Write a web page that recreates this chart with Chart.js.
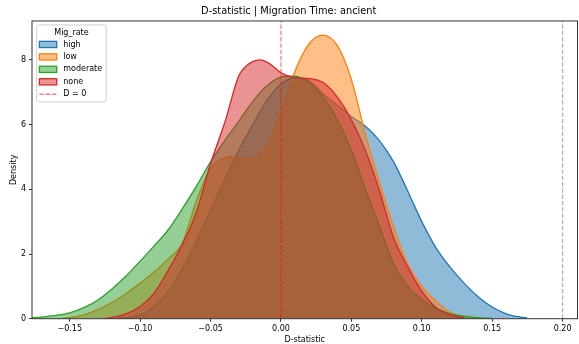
<!DOCTYPE html>
<html>
<head>
<meta charset="utf-8">
<script src="https://cdn.jsdelivr.net/npm/chart.js@4.4.1/dist/chart.umd.min.js"></script>
<style>
  html, body { margin: 0; padding: 0; background: #fff; }
</style>
</head>
<body>
<canvas id="kdeChart" width="579" height="344"></canvas>
<script>
// KDE curves of the D-statistic per migration rate (x = D, y = density)
const highX = [-0.115, -0.11, -0.10, -0.09, -0.08, -0.07, -0.06, -0.05, -0.04, -0.03, -0.02, -0.01, 0.00, 0.01, 0.02, 0.03, 0.04, 0.05, 0.06, 0.07, 0.08, 0.09, 0.10, 0.11, 0.12, 0.13, 0.14, 0.15, 0.16, 0.17, 0.175];
const highY = [0.01, 0.03, 0.12, 0.38, 0.85, 1.55, 2.4, 3.35, 4.3, 5.2, 6.0, 6.75, 7.25, 7.45, 7.35, 6.95, 6.6, 6.25, 5.95, 5.5, 4.85, 3.95, 3.0, 2.2, 1.6, 1.1, 0.68, 0.36, 0.15, 0.05, 0.02];

const lowX = [-0.155, -0.15, -0.14, -0.13, -0.12, -0.11, -0.10, -0.09, -0.08, -0.07, -0.06, -0.05, -0.04, -0.035, -0.03, -0.02, -0.01, 0.00, 0.01, 0.02, 0.03, 0.04, 0.05, 0.06, 0.07, 0.08, 0.09, 0.10, 0.11, 0.12, 0.13, 0.14];
const lowY = [0.01, 0.03, 0.12, 0.28, 0.5, 0.78, 1.1, 1.45, 1.85, 2.35, 3.65, 4.65, 4.97, 5.0, 4.97, 4.93, 5.35, 6.35, 7.65, 8.5, 8.77, 8.45, 7.4, 5.7, 4.2, 2.84, 1.7, 1.0, 0.55, 0.2, 0.07, 0.02];

const moderateX = [-0.18, -0.17, -0.16, -0.15, -0.14, -0.13, -0.12, -0.11, -0.10, -0.09, -0.08, -0.07, -0.06, -0.05, -0.04, -0.03, -0.02, -0.01, 0.00, 0.01, 0.02, 0.03, 0.04, 0.05, 0.06, 0.07, 0.08, 0.09, 0.10, 0.11, 0.12, 0.13, 0.14, 0.15];
const moderateY = [0.02, 0.05, 0.1, 0.18, 0.34, 0.58, 0.92, 1.32, 1.78, 2.25, 2.75, 3.4, 4.1, 4.85, 5.5, 6.1, 6.72, 7.2, 7.47, 7.5, 7.3, 6.85, 6.15, 5.2, 4.0, 2.85, 1.7, 1.0, 0.6, 0.32, 0.16, 0.08, 0.03, 0.01];

const noneX = [-0.125, -0.12, -0.11, -0.10, -0.09, -0.08, -0.07, -0.06, -0.05, -0.04, -0.03, -0.025, -0.02, -0.015, -0.01, -0.005, 0.00, 0.01, 0.02, 0.03, 0.04, 0.05, 0.06, 0.07, 0.08, 0.09, 0.10, 0.11, 0.12, 0.13];
const noneY = [0.01, 0.04, 0.15, 0.38, 0.8, 1.5, 2.3, 3.3, 4.8, 6.05, 7.5, 7.8, 7.95, 8.0, 7.93, 7.78, 7.6, 7.45, 7.42, 7.3, 6.85, 6.15, 5.2, 3.95, 2.5, 1.6, 0.85, 0.35, 0.12, 0.03];

const migRates = ["high", "low", "moderate", "none"];
const xTicks = [-0.15, -0.10, -0.05, 0.00, 0.05, 0.10, 0.15, 0.20];
const yTicks = [0, 2, 4, 6, 8];
const zeroLineX = 0;
const refLineX = 0.2;

const colors = {
  high: "31,119,180",
  low: "255,127,14",
  moderate: "44,160,44",
  none: "214,39,40",
};

const FONT = "'DejaVu Sans', sans-serif";
const X_MIN = -0.1768, X_MAX = 0.2106, Y_MIN = 0, Y_MAX = 9.205;

const toPoints = (xs, ys) => xs.map((x, i) => ({ x: x, y: ys[i] }));

const kdeDataset = (name, xs, ys, order) => ({
  label: name,
  data: toPoints(xs, ys),
  borderColor: `rgb(${colors[name]})`,
  backgroundColor: `rgba(${colors[name]},0.5)`,
  borderWidth: 1.3,
  fill: "origin",
  pointRadius: 0,
  cubicInterpolationMode: "monotone",
  order: order,
});

const vline = (label, x, color) => ({
  label: label,
  data: [{ x: x, y: Y_MIN }, { x: x, y: Y_MAX }],
  borderColor: color,
  borderWidth: 1.3,
  borderDash: [4.4, 1.9],
  pointRadius: 0,
  fill: false,
  order: 0,
});

const datasets = [
  kdeDataset("high", highX, highY, 4),
  kdeDataset("low", lowX, lowY, 3),
  kdeDataset("moderate", moderateX, moderateY, 2),
  kdeDataset("none", noneX, noneY, 1),
  vline("D = 0", zeroLineX, "rgba(255,0,0,0.5)"),
  vline("", refLineX, "rgba(128,128,128,0.6)"),
];

const fmtTick = (v) => (v < 0 ? "\u2212" : "") + Math.abs(v).toFixed(2);

// spines on all four sides
const framePlugin = {
  id: "frame",
  afterDatasetsDraw(chart) {
    const { ctx, chartArea: a } = chart;
    ctx.save();
    ctx.strokeStyle = "#333";
    ctx.lineWidth = 1;
    ctx.strokeRect(a.left, a.top, a.right - a.left, a.bottom - a.top);
    ctx.restore();
  },
};

// legend box in the upper left corner of the axes
const legendPlugin = {
  id: "migLegend",
  afterDraw(chart) {
    const { ctx, chartArea: a } = chart;
    const x0 = a.left + 4.7, y0 = a.top + 4, w = 69.5, h = 77;
    ctx.save();
    ctx.beginPath();
    ctx.roundRect(x0, y0, w, h, 2);
    ctx.fillStyle = "rgba(255,255,255,0.8)";
    ctx.fill();
    ctx.strokeStyle = "#d0d0d0";
    ctx.lineWidth = 1;
    ctx.stroke();

    ctx.font = `8px ${FONT}`;
    ctx.fillStyle = "#000";
    ctx.textBaseline = "middle";
    ctx.textAlign = "center";
    ctx.fillText("Mig_rate", x0 + w / 2, y0 + 7.5);

    ctx.textAlign = "left";
    const rowH = 12.45;
    const patchX = x0 + 2.7, patchW = 17.3, patchH = 6.2, textX = x0 + 26.5;
    migRates.forEach((name, i) => {
      const cy = y0 + 19.5 + i * rowH;
      ctx.fillStyle = `rgba(${colors[name]},0.5)`;
      ctx.fillRect(patchX, cy - patchH / 2, patchW, patchH);
      ctx.strokeStyle = `rgb(${colors[name]})`;
      ctx.lineWidth = 1.3;
      ctx.strokeRect(patchX, cy - patchH / 2, patchW, patchH);
      ctx.fillStyle = "#000";
      ctx.fillText(name, textX, cy);
    });
    const cy = y0 + 19.5 + 4 * rowH;
    ctx.strokeStyle = "rgba(255,0,0,0.5)";
    ctx.lineWidth = 1.3;
    ctx.setLineDash([4.4, 1.9]);
    ctx.beginPath();
    ctx.moveTo(patchX, cy);
    ctx.lineTo(patchX + patchW, cy);
    ctx.stroke();
    ctx.setLineDash([]);
    ctx.fillStyle = "#000";
    ctx.fillText("D = 0", textX, cy);
    ctx.restore();
  },
};

new Chart(document.getElementById("kdeChart"), {
  type: "line",
  data: { datasets: datasets },
  options: {
    responsive: false,
    animation: false,
    devicePixelRatio: 1,
    layout: { padding: { left: 0, right: 1.5, top: 0, bottom: 0 } },
    plugins: {
      legend: { display: false },
      tooltip: { enabled: false },
      title: {
        display: true,
        text: "D-statistic | Migration Time: ancient",
        color: "#000",
        font: { family: FONT, size: 9.8, weight: "normal" },
        padding: { top: 6, bottom: 3.2 },
      },
    },
    scales: {
      x: {
        type: "linear",
        min: X_MIN,
        max: X_MAX,
        afterBuildTicks: (scale) => { scale.ticks = xTicks.map((v) => ({ value: v })); },
        afterFit: (scale) => { scale.height = 25.3; },
        grid: { display: true, drawOnChartArea: false, drawTicks: true, tickLength: 3, color: "#333" },
        border: { display: false },
        ticks: {
          color: "#000",
          padding: 2,
          maxRotation: 0,
          font: { family: FONT, size: 8 },
          callback: (v) => fmtTick(v),
        },
        title: {
          display: true,
          text: "D-statistic",
          color: "#000",
          font: { family: FONT, size: 8 },
          padding: { top: 0, bottom: -1 },
        },
      },
      y: {
        min: Y_MIN,
        max: Y_MAX,
        afterBuildTicks: (scale) => { scale.ticks = yTicks.map((v) => ({ value: v })); },
        afterFit: (scale) => { scale.width = 32; },
        grid: { display: true, drawOnChartArea: false, drawTicks: true, tickLength: 3, color: "#333" },
        border: { display: false },
        ticks: {
          color: "#000",
          padding: 3,
          font: { family: FONT, size: 8 },
          callback: (v) => String(v),
        },
        title: {
          display: true,
          text: "Density",
          color: "#000",
          font: { family: FONT, size: 8 },
          padding: { top: 9.5, bottom: 0 },
        },
      },
    },
  },
  plugins: [framePlugin, legendPlugin],
});
</script>
</body>
</html>
